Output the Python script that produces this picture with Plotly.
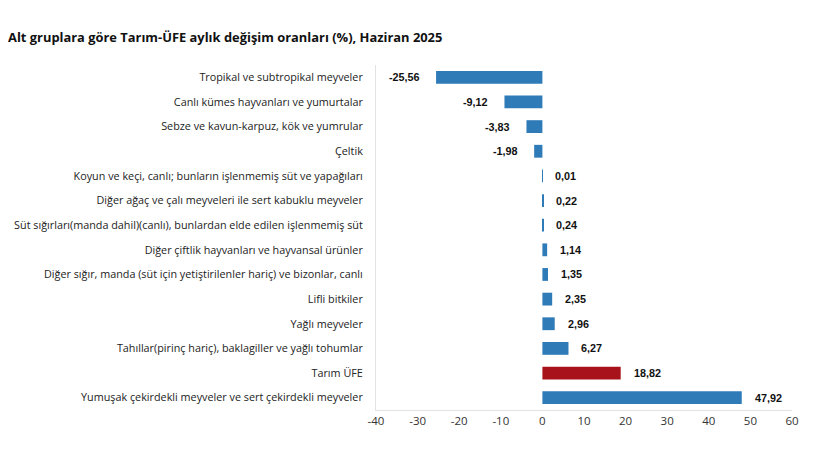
import plotly.graph_objects as go

categories = [
    "Tropikal ve subtropikal meyveler",
    "Canlı kümes hayvanları ve yumurtalar",
    "Sebze ve kavun-karpuz, kök ve yumrular",
    "Çeltik",
    "Koyun ve keçi, canlı; bunların işlenmemiş süt ve yapağıları",
    "Diğer ağaç ve çalı meyveleri ile sert kabuklu meyveler",
    "Süt sığırları(manda dahil)(canlı), bunlardan elde edilen işlenmemiş süt",
    "Diğer çiftlik hayvanları ve hayvansal ürünler",
    "Diğer sığır, manda (süt için yetiştirilenler hariç) ve bizonlar, canlı",
    "Lifli bitkiler",
    "Yağlı meyveler",
    "Tahıllar(pirinç hariç), baklagiller ve yağlı tohumlar",
    "Tarım ÜFE",
    "Yumuşak çekirdekli meyveler ve sert çekirdekli meyveler",
]
values = [-25.56, -9.12, -3.83, -1.98, 0.01, 0.22, 0.24, 1.14, 1.35, 2.35, 2.96, 6.27, 18.82, 47.92]
highlight = "Tarım ÜFE"

x_ticks = [-40, -30, -20, -10, 0, 10, 20, 30, 40, 50, 60]
x_ticktext = ["-40", "-30", "-20", "-10", "0", "10", "20", "30", "40", "50", "60"]

BLUE = "#2f7bb8"
RED = "#a8121a"

colors = [RED if c == highlight else BLUE for c in categories]
labels = [f"{v:.2f}".replace(".", ",") for v in values]

fig = go.Figure()
fig.add_trace(
    go.Bar(
        x=values,
        y=categories,
        orientation="h",
        marker=dict(color=colors, line=dict(width=0)),
        width=0.52,
        hoverinfo="x+y",
    )
)

# value labels beside bar ends
for cat, val, lab in zip(categories, values, labels):
    fig.add_annotation(
        x=val,
        y=cat,
        text=lab,
        showarrow=False,
        xanchor="right" if val < 0 else "left",
        xshift=-14 if val < 0 else 11,
        font=dict(family="Liberation Sans", size=10.8, color="#111111", weight="bold"),
    )

# page body has an 8px margin, so the figure is sized 8px smaller
fig.update_layout(
    width=812,
    height=459,
    paper_bgcolor="white",
    plot_bgcolor="white",
    margin=dict(l=368, r=28, t=57, b=57, autoexpand=False),
    showlegend=False,
    title=dict(
        text="<b>Alt gruplara göre Tarım-ÜFE aylık değişim oranları (%), Haziran 2025</b>",
        x=0,
        xanchor="left",
        y=0.935,
        yanchor="middle",
        font=dict(family="Open Sans", size=12.9, color="#111111"),
    ),
)
fig.update_xaxes(
    range=[-40, 60],
    tickvals=x_ticks,
    ticktext=x_ticktext,
    showgrid=False,
    zeroline=False,
    showline=True,
    linecolor="#e3e3e3",
    linewidth=1,
    automargin=False,
    tickfont=dict(family="Open Sans", size=11.5, color="#333333"),
    ticks="",
)
fig.update_yaxes(
    autorange="reversed",
    showgrid=False,
    zeroline=False,
    showline=True,
    linecolor="#e3e3e3",
    linewidth=1,
    ticks="",
    automargin=False,
    ticklabelstandoff=10,
    tickfont=dict(family="Open Sans", size=10.8, color="#222222"),
)

fig.write_html("out.html")
